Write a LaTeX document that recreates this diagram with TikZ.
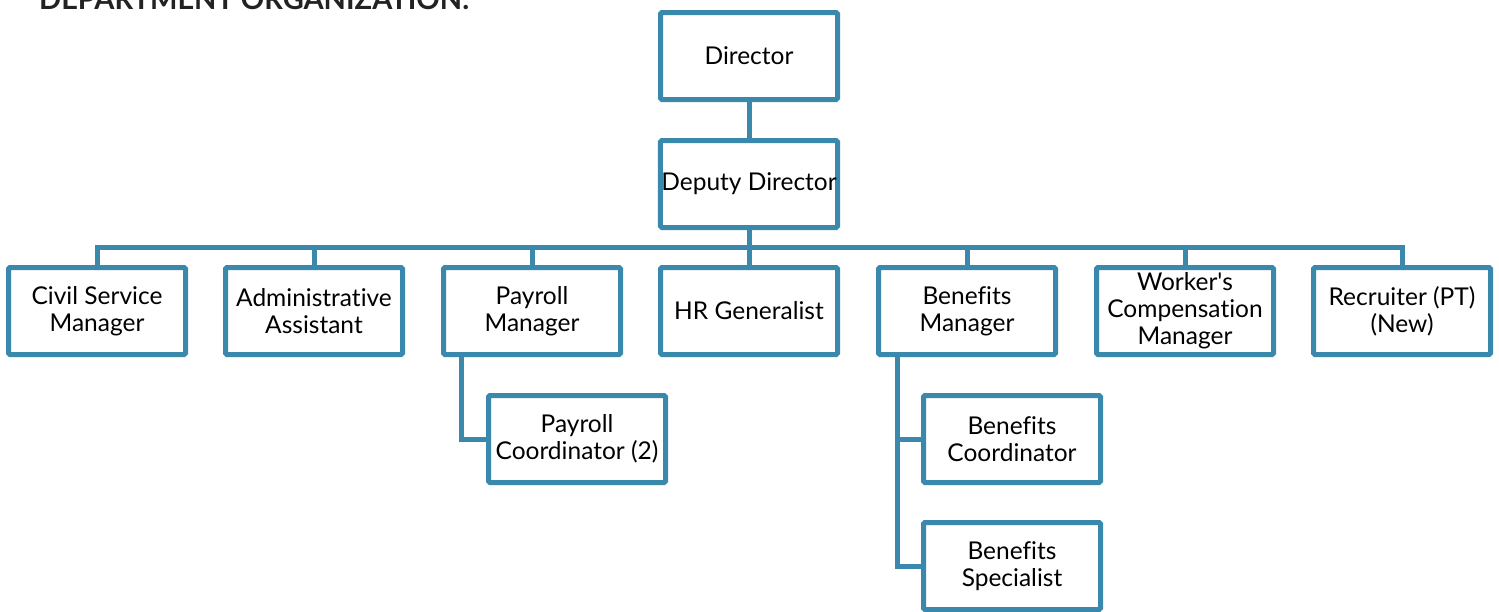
\documentclass[tikz,border=0pt]{standalone}
\usepackage{fontspec}
\setmainfont{Lato}[Ligatures={NoCommon,NoContextual}]
\usepackage{xcolor}
\usetikzlibrary{positioning}
\definecolor{orgblue}{RGB}{58,136,172}
\definecolor{titlegray}{RGB}{34,34,34}
\tikzset{
    post/.style={rectangle, rounded corners=1.5pt, draw=orgblue, line width=5pt, fill=white, minimum width=177pt, minimum height=87pt, align=center, inner sep=1pt, font=\fontsize{24.5}{27}\selectfont},
    link/.style={draw=orgblue, line width=5pt}
}

\begin{document}
\begin{tikzpicture}[x=1pt, y=-1pt]
    \useasboundingbox (0,0) rectangle (1499,611);
    \node (title) [anchor=base west, inner sep=0pt, text=titlegray, font=\bfseries\fontsize{29}{29}\selectfont] at (39,9.5) {DEPARTMENT ORGANIZATION:};

    % top of the chart
    \node (dir) [post] at (749,56) {Director};
    \node (dep) [post] at (749,184) {Deputy Director};
    \coordinate (bus) at (749,247);

    % second row
    \node (csm) [post] at (97,311) {Civil Service\\Manager};
    \node (aa)  [post] at (314,311) {Administrative\\Assistant};
    \node (pm)  [post] at (532,311) {Payroll\\Manager};
    \node (hr)  [post] at (749,311) {HR Generalist};
    \node (bm)  [post] at (967,311) {Benefits\\Manager};
    \node (wcm) [post] at (1185,311) {Worker\textquotesingle s\\Compensation\\Manager};
    \node (rec) [post] at (1402,311) {Recruiter (PT)\\(New)};

    % staff under the managers
    \node (pc) [post] at (577,439) {Payroll\\Coordinator (2)};
    \node (bc) [post] at (1012,439) {Benefits\\Coordinator};
    \node (bs) [post] at (1012,566) {Benefits\\Specialist};

    \draw[link] (dir) -- (dep);
    \draw[link] (dep) -- (bus);
    \foreach \n in {csm, aa, pm, hr, bm, wcm, rec}
        \draw[link] (bus) -| (\n.north);
    \draw[link] (pm.south west) ++(20,0) |- (pc.west);
    \draw[link] (bm.south west) ++(21,0) |- (bc.west);
    \draw[link] (bm.south west) ++(21,0) |- (bs.west);
\end{tikzpicture}
\end{document}
